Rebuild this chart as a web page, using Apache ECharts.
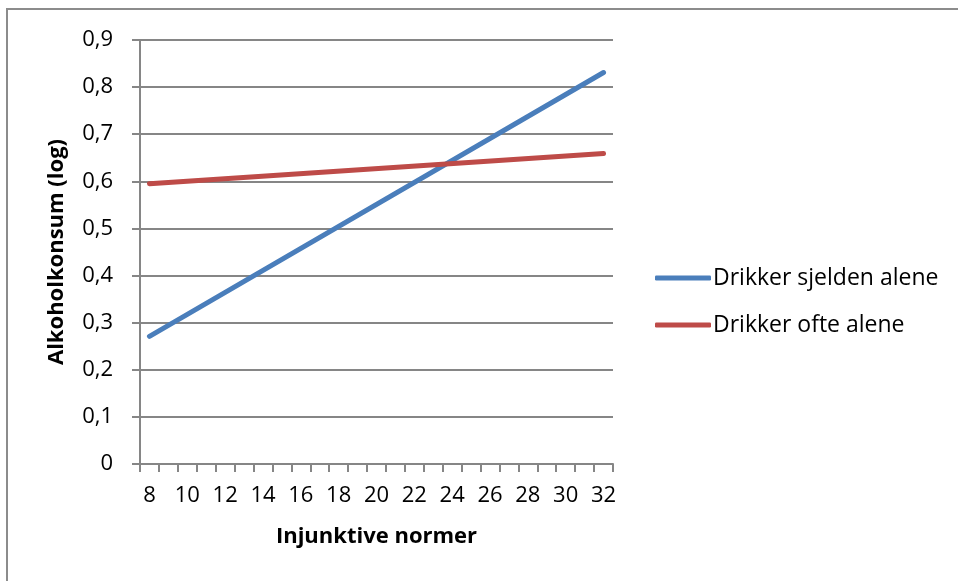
<!DOCTYPE html>
<html>
<head>
<meta charset="utf-8">
<script src="https://cdn.jsdelivr.net/npm/echarts@6/dist/echarts.min.js"></script>
<style>
  html, body { margin: 0; padding: 0; background: #fff; }
  #main { width: 958px; height: 581px; }
</style>
</head>
<body>
<div id="main"></div>
<script>
// x categories: injunktive normer 8..32
const categories = ['8', '9', '10', '11', '12', '13', '14', '15', '16', '17', '18', '19', '20',
  '21', '22', '23', '24', '25', '26', '27', '28', '29', '30', '31', '32'];

const sjeldenValues = [0.271, null, null, null, null, null, null, null, null, null, null, null, null,
  null, null, null, null, null, null, null, null, null, null, null, 0.831];
const ofteValues = [0.595, null, null, null, null, null, null, null, null, null, null, null, null,
  null, null, null, null, null, null, null, null, null, null, null, 0.659];

const seriesNames = ['Drikker sjelden alene', 'Drikker ofte alene'];
const font = '"Open Sans", sans-serif';
const fontSize = 22;
const axisGray = '#868686';

const chart = echarts.init(document.getElementById('main'));

chart.setOption({
  animation: false,
  backgroundColor: '#fff',
  graphic: [{
    type: 'rect',
    shape: { x: 7, y: 9, width: 1000, height: 1000 },
    style: { fill: 'none', stroke: '#8c8c8c', lineWidth: 2 },
    silent: true
  }],
  grid: { left: 140, right: 345, top: 40, bottom: 117 },
  legend: {
    orient: 'vertical',
    left: 650,
    top: 261,
    itemGap: 23,
    itemWidth: 56,
    itemHeight: 5,
    icon: 'roundRect',
    textStyle: { fontFamily: font, fontSize: 23, lineHeight: 24, color: '#000', padding: [0, 0, 0, -3] },
    data: seriesNames
  },
  xAxis: {
    type: 'category',
    data: categories,
    boundaryGap: true,
    name: 'Injunktive normer',
    nameLocation: 'middle',
    nameGap: 62,
    nameTextStyle: { fontFamily: font, fontSize: fontSize, fontWeight: 'bold', color: '#000' },
    axisLine: { lineStyle: { color: axisGray, width: 2 } },
    axisTick: { show: true, interval: 0, length: 8, lineStyle: { color: axisGray, width: 2 } },
    axisLabel: { interval: 1, fontFamily: font, fontSize: fontSize, color: '#000', margin: 21 },
    splitLine: { show: false }
  },
  yAxis: {
    type: 'value',
    min: 0,
    max: 0.9,
    interval: 0.1,
    name: 'Alkoholkonsum (log)',
    nameLocation: 'middle',
    nameGap: 72,
    nameTextStyle: { fontFamily: font, fontSize: fontSize, fontWeight: 'bold', color: '#000' },
    axisLine: { show: true, lineStyle: { color: axisGray, width: 2 } },
    axisTick: { show: true, length: 8, lineStyle: { color: axisGray, width: 2 } },
    axisLabel: {
      fontFamily: font, fontSize: fontSize, color: '#000', margin: 27,
      formatter: v => (Math.round(v * 10) / 10).toString().replace('.', ',')
    },
    splitLine: { lineStyle: { color: axisGray, width: 2 } }
  },
  series: [
    {
      name: seriesNames[0],
      type: 'line',
      data: sjeldenValues,
      connectNulls: true,
      symbol: 'none',
      color: '#4a7ebb',
      lineStyle: { width: 5, cap: 'round' }
    },
    {
      name: seriesNames[1],
      type: 'line',
      data: ofteValues,
      connectNulls: true,
      symbol: 'none',
      color: '#be4b48',
      lineStyle: { width: 5, cap: 'round' }
    }
  ]
});
</script>
</body>
</html>
